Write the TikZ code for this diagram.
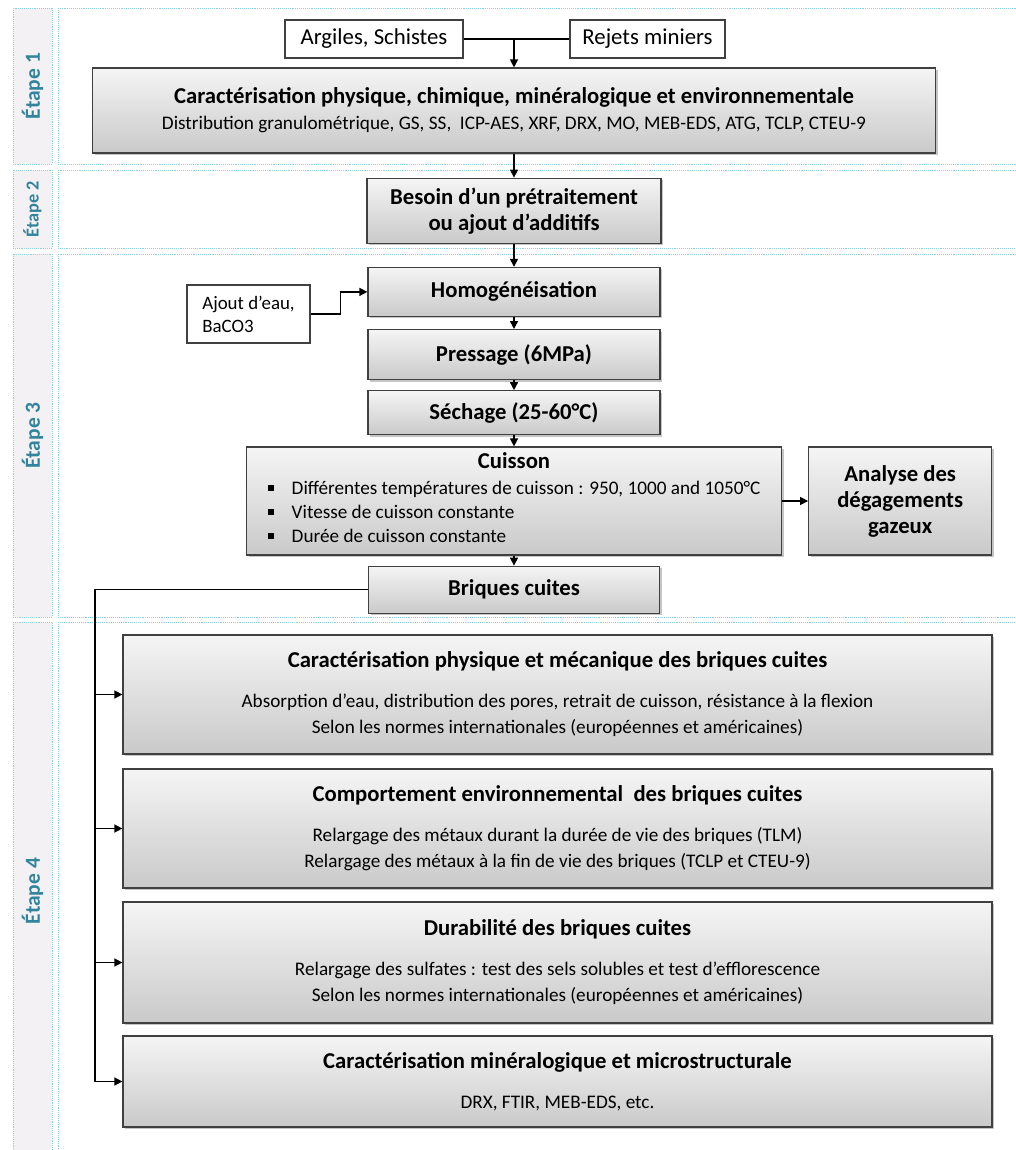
\documentclass[tikz,border=0pt]{standalone}
\usepackage{fontspec}
\setmainfont{Carlito}
\usetikzlibrary{positioning, arrows.meta, shadows}
\definecolor{stagetext}{HTML}{31849B}
\definecolor{bandline}{HTML}{8DD3DF}
\definecolor{bandfill}{HTML}{F3F1F3}
\newcommand{\subtxt}{\fontsize{19.2}{22}\selectfont\mdseries}
\newcommand{\bodytxt}{\fontsize{19.2}{24}\selectfont\mdseries}
\newcommand{\bul}{\rule[0.2em]{0.3em}{0.3em}\hspace{0.95em}}
\tikzset{
>={Triangle[length=8pt,width=8pt]}, % filled arrow heads
node distance=11pt, % gap between the boxes of the chain
link/.style={draw=black, line width=1.4pt}, % plain connector
flow/.style={link, ->}, % connector with an arrow
stepbox/.style={draw=black!75, line width=1.2pt, top color=gray!8, bottom color=gray!42,
  drop shadow={shadow xshift=2pt, shadow yshift=-2pt, opacity=.45},
  font=\fontsize{22.7}{26}\selectfont\bfseries, align=center, inner sep=2pt}, % grey step
inbox/.style={draw=black!75, line width=1.2pt, fill=white,
  font=\fontsize{22.8}{26}\selectfont, inner sep=2pt}, % white input box
band/.style={draw=bandline, densely dotted, line width=0.9pt}, % stage frame
stagelabel/.style={rotate=90, text=stagetext},
}
\begin{document}
\begin{tikzpicture}[x=1pt, y=-1pt]
\useasboundingbox (0,0) rectangle (1015,1150);
\fill[white] (0,0) rectangle (1015,1150);

% stages
\foreach \t/\b/\n/\s in {8/164/1/21.5, 170/248/2/18.3, 254/617/3/21.5, 622/1160/4/21.5}{
  \draw[band, fill=bandfill] (13,\t) rectangle (52,\b);
  \draw[band] (58,\t) rectangle (1030,\b);
  \node[stagelabel, font=\fontsize{\s}{24}\selectfont\bfseries] (stage\n) at (32.5,{(\t+\b)/2}) {Étape \n};
}

% stage 1
\node[inbox, minimum width=178pt, minimum height=38pt] (argiles) at (374,39) {Argiles, Schistes};
\node[inbox, minimum width=155pt, minimum height=38pt] (rejets) at (647.5,39) {Rejets miniers};
\node[stepbox, minimum width=843pt, minimum height=85pt] (caract) at (514,110.5)
  {Caractérisation physique, chimique, minéralogique et environnementale\\
   \subtxt Distribution granulométrique, GS, SS,\ \ ICP-AES, XRF, DRX, MO, MEB-EDS, ATG, TCLP, CTEU-9};

% stages 2 and 3
\node[stepbox, minimum width=294pt, minimum height=65pt, below=24pt of caract] (besoin)
  {Besoin d’un prétraitement\\ou ajout d’additifs};
\node[stepbox, minimum width=292pt, minimum height=49pt, below=23pt of besoin] (homog) {Homogénéisation};
\node[stepbox, minimum width=292pt, minimum height=50pt, below=12pt of homog] (pressage) {Pressage (6MPa)};
\node[stepbox, minimum width=292pt, minimum height=44pt, below=10pt of pressage] (sechage) {Séchage (25-60°C)};
\node[stepbox, minimum width=535pt, minimum height=108pt, below=of sechage] (cuisson)
  {Cuisson\\
   \bodytxt\begin{tabular}[t]{@{}l@{}}
   \bul Différentes températures de cuisson : 950, 1000 and 1050°C\\
   \bul Vitesse de cuisson constante\\
   \bul Durée de cuisson constante
   \end{tabular}};
\node[stepbox, minimum width=183pt, minimum height=108pt, right=26pt of cuisson] (analyse)
  {Analyse des\\dégagements\\gazeux};
\node[stepbox, minimum width=291pt, minimum height=47pt, below=10pt of cuisson] (briques) {Briques cuites};
\node[inbox, minimum width=123pt, minimum height=58pt, align=left,
  font=\fontsize{18.9}{23}\selectfont] (ajout) at (248.5,314) {Ajout d’eau,\\BaCO3};

% stage 4
\node[stepbox, minimum width=869pt, minimum height=119pt] (physmeca) at (557.5,694.5)
  {Caractérisation physique et mécanique des briques cuites\\[14pt]
   \bodytxt Absorption d’eau, distribution des pores, retrait de cuisson, résistance à la flexion\\
   \bodytxt Selon les normes internationales (européennes et américaines)};
\node[stepbox, minimum width=869pt, minimum height=119pt] (environ) at (557.5,828.5)
  {Comportement environnemental\ \ des briques cuites\\[14pt]
   \bodytxt Relargage des métaux durant la durée de vie des briques (TLM)\\
   \bodytxt Relargage des métaux à la fin de vie des briques (TCLP et CTEU-9)};
\node[stepbox, minimum width=869pt, minimum height=121pt] (durab) at (557.5,962.5)
  {Durabilité des briques cuites\\[14pt]
   \bodytxt Relargage des sulfates : test des sels solubles et test d’efflorescence\\
   \bodytxt Selon les normes internationales (européennes et américaines)};
\node[stepbox, minimum width=869pt, minimum height=91pt] (minera) at (557.5,1081.5)
  {Caractérisation minéralogique et microstructurale\\[14pt]
   \bodytxt DRX, FTIR, MEB-EDS, etc.};

% connectors
\draw[link] (argiles) -- (rejets);
\draw[flow] (argiles.east -| caract.north) -- (caract.north);
\foreach \a/\b in {caract/besoin, besoin/homog, homog/pressage, pressage/sechage, sechage/cuisson, cuisson/briques}
  \draw[flow] (\a) -- (\b);
\draw[flow] (cuisson) -- (analyse);
\draw[flow] (ajout.east) -- ++(30,0) |- (homog.west);
\coordinate (rail) at (95,0);
\draw[link] (briques.west) -| (rail |- minera.west);
\foreach \b in {physmeca, environ, durab, minera}
  \draw[flow] (rail |- \b.west) -- (\b.west);
\end{tikzpicture}
\end{document}
